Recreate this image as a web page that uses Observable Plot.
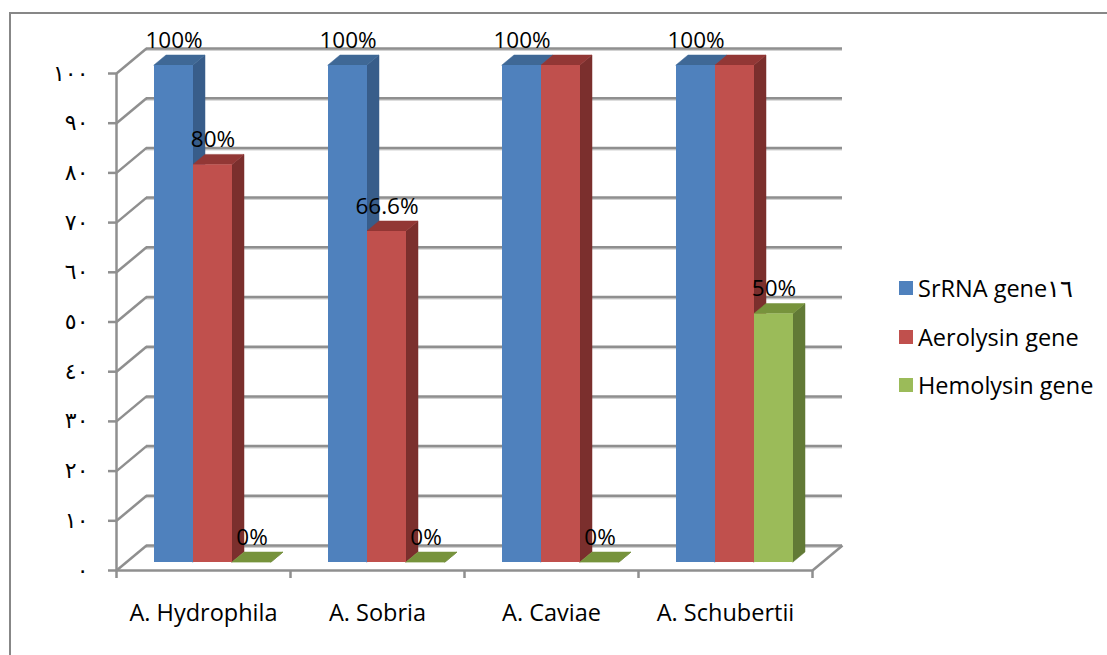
<!DOCTYPE html>
<html>
<head>
<meta charset="utf-8">
<script src="https://cdn.jsdelivr.net/npm/d3@7"></script>
<script src="https://cdn.jsdelivr.net/npm/@observablehq/plot@0.6"></script>
<style>
  html, body { margin: 0; padding: 0; background: #fff; }
  #chart { position: relative; width: 1107px; height: 655px; overflow: hidden; font-family: "Open Sans", sans-serif; }
  #frame { position: absolute; left: 9px; top: 12px; width: 1300px; height: 900px;
           border-left: 2.5px solid #878787; border-top: 2.5px solid #878787; pointer-events: none; }
  #legend { position: absolute; left: 899px; top: 264px; }
  .item { display: flex; align-items: center; height: 48.5px; font-size: 23.5px; color: #000; }
  .sw { width: 14px; height: 14px; margin-right: 5px; flex: none; }
  #plot { position: absolute; left: 0; top: 0; }
</style>
</head>
<body>
<div id="chart">
  <div id="plot"></div>
  <div id="frame"></div>
  <div id="legend"></div>
</div>
<script>
// Categories and the three gene series (percent positive)
const categories = ["A. Hydrophila", "A. Sobria", "A. Caviae", "A. Schubertii"];
const seriesNames = ["SrRNA gene١٦", "Aerolysin gene", "Hemolysin gene"];
const srRNA = [100, 100, 100, 100];
const aerolysin = [80, 66.6, 100, 100];
const hemolysin = [0, 0, 0, 50];
// which bars carry a value label
const srRNALabelled = [true, true, true, true];
const aerolysinLabelled = [true, true, false, false];
const hemolysinLabelled = [true, true, true, true];

const yTicks = [0, 10, 20, 30, 40, 50, 60, 70, 80, 90, 100];
const yTickLabels = ["٠", "١٠", "٢٠", "٣٠", "٤٠", "٥٠", "٦٠", "٧٠", "٨٠", "٩٠", "١٠٠"];

// face colours per series: front, right side, top
const frontColors = ["#4f81bd", "#c0504d", "#9bbb59"];
const sideColors = ["#385d8a", "#7b2f2d", "#627a36"];
const topColors = ["#3f6896", "#923735", "#77933c"];
const gridColor = "#8f8f8f";

// page geometry
const W = 1107, H = 655;
const mL = 116, mR = 295, mT = 73, mB = 85;
const pxPerCat = (W - mL - mR) / categories.length;
const pxPerVal = (H - mT - mB) / 100;

// depth of the back wall, converted from pixels into data units
const DX = 30 / pxPerCat;
const DY = 25 / pxPerVal;
// bar placement inside each category slot and its depth span
const groupOffset = 28.4 / pxPerCat;
const barW = 39 / pxPerCat;
const f0 = 0.32, f1 = 0.72;

const seriesValues = [srRNA, aerolysin, hemolysin];
const seriesLabelled = [srRNALabelled, aerolysinLabelled, hemolysinLabelled];

const bars = [];
seriesValues.forEach((vals, j) => {
  vals.forEach((v, i) => {
    const x1 = i + groupOffset + j * barW;
    bars.push({ id: `${i}-${j}`, i, j, v, x1, x2: x1 + barW, labelled: seriesLabelled[j][i] });
  });
});

const sidePts = bars.flatMap(b => [f0, f1].map(f => ({
  id: b.id, fill: sideColors[b.j], x: b.x2 + f * DX, y1: f * DY, y2: b.v + f * DY
})));
const topPts = bars.flatMap(b => [f0, f1].map(f => ({
  id: b.id, fill: topColors[b.j], y: b.v + f * DY, x1: b.x1 + f * DX, x2: b.x2 + f * DX
})));

const n = categories.length;

const plot = Plot.plot({
  width: W, height: H,
  marginLeft: mL, marginRight: mR, marginTop: mT, marginBottom: mB,
  x: { domain: [0, n], axis: null },
  y: { domain: [0, 100], axis: null },
  color: { type: "identity" },
  style: { fontFamily: "Open Sans", background: "transparent", overflow: "visible" },
  marks: [
    // back wall gridlines and the diagonals joining them to the front axis
    Plot.ruleY(yTicks, { y: d => d + DY, x1: () => DX, x2: () => n + DX, stroke: "#d2d2d2", strokeWidth: 2, dy: 1.5 }),
    Plot.ruleY(yTicks, { y: d => d + DY, x1: () => DX, x2: () => n + DX, stroke: gridColor, strokeWidth: 2.5 }),
    Plot.link(yTicks, { x1: () => 0, y1: d => d, x2: () => DX, y2: d => d + DY, stroke: gridColor, strokeWidth: 2.5 }),
    Plot.link([0], { x1: () => n, y1: () => 0, x2: () => n + DX, y2: () => DY, stroke: gridColor, strokeWidth: 2.5 }),
    // front axes
    Plot.ruleX([0], { y1: () => 0, y2: () => 100, stroke: gridColor, strokeWidth: 2.5 }),
    Plot.ruleY([0], { x1: () => 0, x2: () => n, stroke: gridColor, strokeWidth: 2.5 }),
    Plot.axisY({ ticks: yTicks, tickSize: 8, tickPadding: 20, tickFormat: d => yTickLabels[yTicks.indexOf(d)],
                 stroke: gridColor, strokeWidth: 2.5, fill: "#000", fontSize: 22, fontFamily: "DejaVu Sans", label: null }),
    Plot.axisX({ ticks: d3.range(n + 1), tickSize: 8, tickFormat: () => "", stroke: gridColor, strokeWidth: 2.5, label: null }),
    // bar faces: sides, then tops, then fronts
    Plot.areaY(sidePts, { x: "x", y1: "y1", y2: "y2", z: "id", fill: "fill", stroke: "fill", strokeWidth: 0.5, curve: "linear" }),
    Plot.areaX(topPts, { y: "y", x1: "x1", x2: "x2", z: "id", fill: "fill", stroke: "fill", strokeWidth: 0.5, curve: "linear" }),
    Plot.rect(bars, { x1: d => d.x1 + f0 * DX, x2: d => d.x2 + f0 * DX, y1: () => f0 * DY, y2: d => d.v + f0 * DY,
                      fill: d => frontColors[d.j] }),
    // value labels
    Plot.text(bars.filter(d => d.labelled), {
      x: d => (d.x1 + d.x2) / 2 + f0 * DX, y: d => d.v + f0 * DY, dy: -25,
      text: d => `${d.v}%`, fontSize: 22.5, fill: "#000", fontFamily: "Open Sans"
    }),
    // category labels
    Plot.text(categories, { x: (d, i) => i + 0.5, y: () => 0, dy: 43, text: d => d, fontSize: 23.5, fill: "#000", fontFamily: "Open Sans" })
  ]
});
document.getElementById("plot").appendChild(plot);

// legend
const legend = document.getElementById("legend");
seriesNames.forEach((name, j) => {
  const row = document.createElement("div");
  row.className = "item";
  const sw = document.createElement("span");
  sw.className = "sw";
  sw.style.background = frontColors[j];
  const t = document.createElement("span");
  t.textContent = name;
  row.append(sw, t);
  legend.appendChild(row);
});
</script>
</body>
</html>
